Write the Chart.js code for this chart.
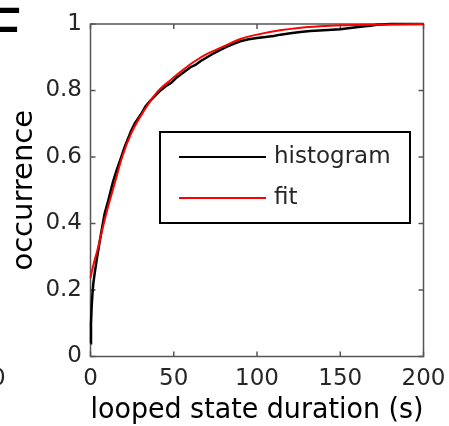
<!DOCTYPE html>
<html>
<head>
<meta charset="utf-8">
<script src="https://cdn.jsdelivr.net/npm/chart.js@4"></script>
<style>
html, body { margin: 0; padding: 0; background: #fff; overflow: hidden; }
#wrap { position: relative; width: 449px; height: 426px; }
#panelLetter { position: absolute; left: -14px; top: 0px; font: 64px "DejaVu Sans"; color: #000; line-height: 1; }
#leftTick { position: absolute; left: -9px; top: 366px; font: 23px "DejaVu Sans"; color: #262626; line-height: 1; }
</style>
</head>
<body>
<div id="wrap">
  <canvas id="grafica" width="449" height="426"></canvas>
  <div id="panelLetter">F</div>
  <div id="leftTick">0</div>
</div>
<script>
// looped state duration (s) and cumulative occurrence
var histX = [0, 0.3, 0.7, 1.2, 1.7, 2.5, 3.7, 5, 6.7, 8.5, 10.7, 13.5, 16, 18.5, 20.5, 22.5, 24.5, 26.5, 28.5, 30.5, 33, 35.7, 38.5, 42, 45, 48.5, 52, 56, 60, 63, 66, 70, 74, 78, 82, 86, 90, 95, 100, 105, 110, 114, 120, 126, 132, 140, 150, 156, 162, 168, 172, 180, 200];
var histY = [0.04, 0.10, 0.15, 0.19, 0.22, 0.25, 0.29, 0.33, 0.38, 0.43, 0.47, 0.525, 0.565, 0.60, 0.63, 0.655, 0.68, 0.70, 0.715, 0.73, 0.752, 0.768, 0.782, 0.80, 0.812, 0.823, 0.84, 0.855, 0.87, 0.877, 0.888, 0.90, 0.912, 0.922, 0.932, 0.94, 0.948, 0.954, 0.958, 0.961, 0.964, 0.968, 0.972, 0.976, 0.979, 0.981, 0.984, 0.988, 0.992, 0.995, 0.998, 1.0, 1.0];

var fitX = [0, 1, 2.5, 4.7, 7, 10, 14.5, 19, 24.5, 32.5, 40, 48.5, 55, 62.6, 70, 78, 90, 100, 113.8, 125, 137.8, 150, 170, 200];
var fitY = [0.236, 0.26, 0.29, 0.33, 0.38, 0.44, 0.52, 0.60, 0.672, 0.742, 0.795, 0.833, 0.86, 0.888, 0.91, 0.928, 0.955, 0.968, 0.981, 0.988, 0.993, 0.996, 0.998, 1.0];

var seriesNames = ['histogram', 'fit'];
var seriesColors = ['#000000', '#ff0000'];

var xTickValues = [0, 50, 100, 150, 200];
var xTickLabels = ['0', '50', '100', '150', '200'];
var yTickValues = [0, 0.2, 0.4, 0.6, 0.8, 1];
var yTickLabels = ['0', '0.2', '0.4', '0.6', '0.8', '1'];

var axisColor = '#555555';
var textColor = '#262626';

function toPoints(xs, ys) {
    return xs.map(function (v, i) { return { x: v, y: ys[i] }; });
}

// caja de ejes con marcas hacia dentro, estilo matlab
var cajaEjes = {
    id: 'cajaEjes',
    beforeDatasetsDraw: function (chart) {
        var ctx = chart.ctx, a = chart.chartArea;
        var sx = chart.scales.x, sy = chart.scales.y;
        var len = 5;
        ctx.save();
        ctx.strokeStyle = axisColor;
        ctx.lineWidth = 1.5;
        ctx.strokeRect(a.left, a.top, a.right - a.left, a.bottom - a.top);
        ctx.beginPath();
        xTickValues.forEach(function (v) {
            var px = sx.getPixelForValue(v);
            ctx.moveTo(px, a.bottom); ctx.lineTo(px, a.bottom - len);
            ctx.moveTo(px, a.top); ctx.lineTo(px, a.top + len);
        });
        yTickValues.forEach(function (v) {
            var py = sy.getPixelForValue(v);
            ctx.moveTo(a.left, py); ctx.lineTo(a.left + len, py);
            ctx.moveTo(a.right, py); ctx.lineTo(a.right - len, py);
        });
        ctx.stroke();
        ctx.restore();
    },
    afterDatasetsDraw: function (chart) {
        var ctx = chart.ctx, a = chart.chartArea;
        var bx = a.left + 69.5, by = a.top + 108, bw = 250, bh = 91;
        ctx.save();
        ctx.fillStyle = '#fff';
        ctx.fillRect(bx, by, bw, bh);
        ctx.strokeStyle = '#000';
        ctx.lineWidth = 2;
        ctx.strokeRect(bx, by, bw, bh);
        ctx.font = '23px "DejaVu Sans"';
        ctx.textBaseline = 'middle';
        chart.data.datasets.forEach(function (ds, i) {
            var ry = by + 25 + i * 41;
            ctx.strokeStyle = ds.borderColor;
            ctx.lineWidth = 2;
            ctx.beginPath();
            ctx.moveTo(bx + 19, ry); ctx.lineTo(bx + 106, ry);
            ctx.stroke();
            ctx.fillStyle = textColor;
            ctx.fillText(ds.label, bx + 114, ry);
        });
        ctx.restore();
    }
};

new Chart(document.getElementById('grafica').getContext('2d'), {
    type: 'line',
    data: {
        datasets: [{
            label: seriesNames[0],
            data: toPoints(histX, histY),
            borderColor: seriesColors[0],
            borderWidth: 2.5,
            pointRadius: 0,
            tension: 0,
            order: 1,
            clip: false
        }, {
            label: seriesNames[1],
            data: toPoints(fitX, fitY),
            borderColor: seriesColors[1],
            borderWidth: 2,
            pointRadius: 0,
            cubicInterpolationMode: 'monotone',
            order: 0,
            clip: false
        }]
    },
    options: {
        responsive: false,
        animation: false,
        layout: { padding: { left: 0, top: 24, right: 25.5, bottom: 0 } },
        plugins: { legend: { display: false }, tooltip: { enabled: false } },
        scales: {
            x: {
                type: 'linear',
                min: 0, max: 200,
                grid: { display: false, drawTicks: false },
                border: { display: false },
                afterBuildTicks: function (s) { s.ticks = xTickValues.map(function (v) { return { value: v }; }); },
                afterFit: function (s) { s.height = 69.5; s.paddingLeft = 0; s.paddingRight = 0; },
                ticks: {
                    padding: 9,
                    color: textColor,
                    font: { family: 'DejaVu Sans', size: 23 },
                    maxRotation: 0,
                    callback: function (v, i) { return xTickLabels[i]; }
                },
                title: {
                    display: true,
                    text: 'looped state duration (s)',
                    color: '#000',
                    font: { family: 'DejaVu Sans', size: 29, lineHeight: 1 },
                    padding: { top: 0, bottom: 1 }
                }
            },
            y: {
                type: 'linear',
                min: 0, max: 1,
                grid: { display: false, drawTicks: false },
                border: { display: false },
                afterBuildTicks: function (s) { s.ticks = yTickValues.map(function (v) { return { value: v }; }); },
                afterFit: function (s) { s.width = 90.5; s.paddingTop = 0; s.paddingBottom = 0; },
                ticks: {
                    padding: 8.5,
                    color: textColor,
                    font: { family: 'DejaVu Sans', size: 23 },
                    callback: function (v, i) { return yTickLabels[i]; }
                },
                title: {
                    display: true,
                    text: 'occurrence',
                    color: '#000',
                    font: { family: 'DejaVu Sans', size: 29, lineHeight: 1 },
                    padding: { top: 10, bottom: 0 }
                }
            }
        }
    },
    plugins: [cajaEjes]
});
</script>
</body>
</html>
